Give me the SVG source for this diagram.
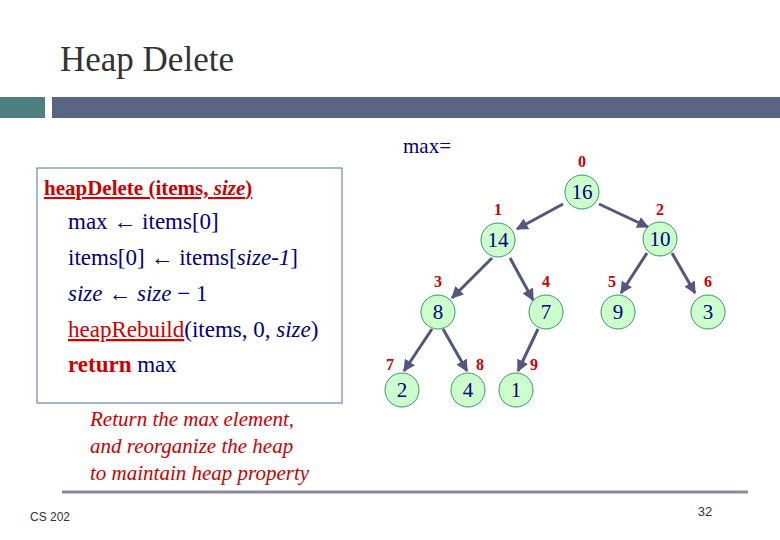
<svg xmlns="http://www.w3.org/2000/svg" width="780" height="540" viewBox="0 0 780 540">
<defs>
<marker id="ah" viewBox="0 0 10 10" refX="9" refY="5" markerWidth="4" markerHeight="4" orient="auto"><path d="M0,0L10,5L0,10z" fill="#555580"/></marker>
<style>
text{font-family:"Liberation Serif","DejaVu Serif",serif}
.n circle{fill:#ccffcc;stroke:#339966;stroke-width:1}
.n text{font-size:21px;fill:#000080;text-anchor:middle}
.ix{font-size:16px;font-weight:bold;fill:#cc0000;text-anchor:middle}
.c text{font-size:23px;fill:#000080}
.r{fill:#cc0000}
#edges line{stroke:#555580;stroke-width:3;marker-end:url(#ah)}
</style>
</defs>
<rect width="780" height="540" fill="#fff"/>
<text x="60" y="71" font-size="35" fill="#333">Heap Delete</text>
<rect x="0" y="97" width="45" height="21" fill="#4f8080"/>
<rect x="52" y="97" width="728" height="21" fill="#5a6485"/>
<rect x="37" y="168" width="305" height="235" fill="none" stroke="#5070a0" stroke-width="1"/>
<g class="c">
<text x="44" y="195" class="r" font-weight="bold" style="font-size:21px;fill:#cc0000" text-decoration="underline">heapDelete (items, <tspan font-style="italic">size</tspan>)</text>
<text x="68" y="229">max ← items[0]</text>
<text x="68" y="265">items[0] ← items[<tspan font-style="italic">size-1</tspan>]</text>
<text x="68" y="301"><tspan font-style="italic">size</tspan> ← <tspan font-style="italic">size</tspan> − 1</text>
<text x="68" y="337"><tspan class="r" text-decoration="underline">heapRebuild</tspan>(items, 0, <tspan font-style="italic">size</tspan>)</text>
<text x="68" y="372"><tspan class="r" font-weight="bold">return</tspan> max</text>
</g>
<g font-size="21" font-style="italic" fill="#cc0000">
<text x="90" y="426">Return the max element,</text>
<text x="90" y="453">and reorganize the heap</text>
<text x="90" y="480">to maintain heap property</text>
</g>
<text x="403" y="153" font-size="21" fill="#000080">max=</text>
<g id="edges">
<line x1="563" y1="204" x2="517" y2="229"/>
<line x1="599" y1="204" x2="648" y2="227"/>
<line x1="492" y1="258" x2="452" y2="298"/>
<line x1="510" y1="258" x2="533" y2="300"/>
<line x1="647" y1="253" x2="621" y2="293"/>
<line x1="672" y1="253" x2="695" y2="293"/>
<line x1="432" y1="329" x2="404" y2="371"/>
<line x1="443" y1="329" x2="467" y2="371"/>
<line x1="538" y1="329" x2="518" y2="371"/>
</g>
<g id="n0" class="n"><circle cx="582" cy="192" r="17"/><text x="582" y="199">16</text></g>
<g id="n1" class="n"><circle cx="498" cy="240" r="17"/><text x="498" y="247">14</text></g>
<g id="n2" class="n"><circle cx="660" cy="239" r="17"/><text x="660" y="246">10</text></g>
<g id="n3" class="n"><circle cx="438" cy="312" r="17"/><text x="438" y="319">8</text></g>
<g id="n4" class="n"><circle cx="546" cy="312" r="17"/><text x="546" y="319">7</text></g>
<g id="n5" class="n"><circle cx="618" cy="312" r="17"/><text x="618" y="319">9</text></g>
<g id="n6" class="n"><circle cx="708" cy="312" r="17"/><text x="708" y="319">3</text></g>
<g id="n7" class="n"><circle cx="402" cy="390" r="17"/><text x="402" y="397">2</text></g>
<g id="n8" class="n"><circle cx="468" cy="390" r="17"/><text x="468" y="397">4</text></g>
<g id="n9" class="n"><circle cx="516" cy="390" r="17"/><text x="516" y="397">1</text></g>
<g>
<text x="582" y="167" class="ix">0</text>
<text x="498" y="215" class="ix">1</text>
<text x="660" y="215" class="ix">2</text>
<text x="438" y="287" class="ix">3</text>
<text x="546" y="287" class="ix">4</text>
<text x="612" y="287" class="ix">5</text>
<text x="708" y="287" class="ix">6</text>
<text x="390" y="370" class="ix" font-weight="normal">7</text>
<text x="480" y="370" class="ix">8</text>
<text x="534" y="370" class="ix">9</text>
</g>
<line x1="62" y1="492" x2="748" y2="492" stroke="#8a8a9a" stroke-width="3"/>
<text x="30" y="521" style="font-family:'Liberation Sans',sans-serif" font-size="12" fill="#333">CS 202</text>
<text x="705" y="516" style="font-family:'Liberation Sans',sans-serif" font-size="13" fill="#333" text-anchor="middle">32</text>
</svg>
